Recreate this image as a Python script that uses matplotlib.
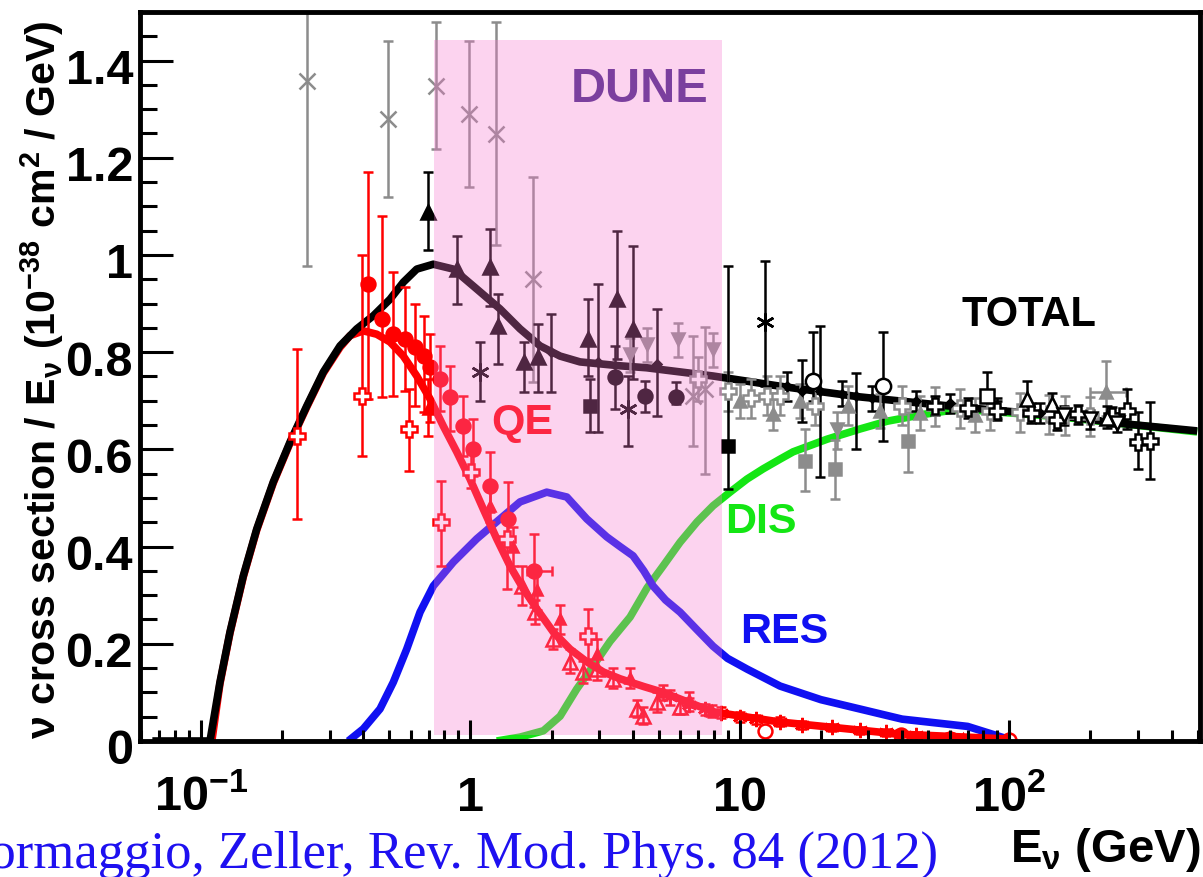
import numpy as np
import matplotlib
matplotlib.use('Agg')
import matplotlib.pyplot as plt
from matplotlib.ticker import MultipleLocator, LogLocator, NullFormatter
from matplotlib.transforms import ScaledTranslation

plt.rcParams['font.family'] = ['Liberation Sans', 'DejaVu Sans']
plt.rcParams['font.weight'] = 'bold'
plt.rcParams['mathtext.fontset'] = 'custom'
plt.rcParams['mathtext.rm'] = 'Liberation Sans:bold'
plt.rcParams['mathtext.it'] = 'Liberation Sans:bold'
plt.rcParams['mathtext.bf'] = 'Liberation Sans:bold'
plt.rcParams['mathtext.sf'] = 'Liberation Sans:bold'
plt.rcParams['mathtext.default'] = 'regular'

# ---------------- curves (E in GeV, sigma/E) ----------------
total_E = [0.066, 0.108, 0.1176, 0.1281, 0.1436, 0.161, 0.1855, 0.214, 0.2468, 0.2844, 0.3281,
           0.3784, 0.4361, 0.503, 0.5636, 0.6322, 0.7282, 0.8638, 1.0252, 1.288, 1.528, 1.813,
           2.151, 2.552, 3.592, 4.5, 7.95, 14.1, 27.9, 65.7, 154, 274, 498]
total_y = [0.0, 0.0, 0.121, 0.224, 0.34, 0.436, 0.533, 0.615, 0.689, 0.759, 0.813,
           0.848, 0.875, 0.909, 0.944, 0.971, 0.981, 0.971, 0.936, 0.889, 0.848, 0.813,
           0.792, 0.780, 0.772, 0.768, 0.751, 0.730, 0.708, 0.687, 0.669, 0.652, 0.638]

qe_E = [0.1097, 0.1176, 0.1281, 0.1436, 0.161, 0.1855, 0.214, 0.2468, 0.2844, 0.3281, 0.3573,
        0.4003, 0.449, 0.503, 0.5636, 0.6322, 0.7079, 0.793, 0.8894, 0.9966, 1.1166, 1.252,
        1.4028, 1.5718, 1.7622, 2.031, 2.343, 2.702, 3.113, 3.592, 4.4, 5.19, 7.95, 14.1, 39.3, 100]
qe_y = [0.0, 0.118, 0.222, 0.338, 0.434, 0.531, 0.613, 0.687, 0.757, 0.810, 0.834,
        0.844, 0.837, 0.821, 0.792, 0.751, 0.704, 0.648, 0.595, 0.539, 0.477, 0.416,
        0.360, 0.313, 0.272, 0.224, 0.189, 0.163, 0.142, 0.128, 0.112, 0.100, 0.060, 0.039, 0.014, 0.004]

res_E = [0.3521, 0.4003, 0.4618, 0.5174, 0.5801, 0.65, 0.7282, 0.8638, 1.0554, 1.288, 1.528,
         1.9195, 2.2786, 2.702, 3.206, 3.592, 4.014, 4.4, 4.76, 5.3, 6.0, 6.9, 7.95, 9.0, 10.63,
         14.1, 20, 40, 70, 100]
res_y = [0.0, 0.025, 0.066, 0.121, 0.189, 0.265, 0.319, 0.368, 0.416, 0.457, 0.492,
         0.512, 0.502, 0.457, 0.420, 0.400, 0.381, 0.350, 0.319, 0.290, 0.265, 0.230, 0.195, 0.170,
         0.148, 0.113, 0.085, 0.045, 0.030, 0.003]

dis_E = [1.252, 1.528, 1.8646, 2.151, 2.481, 2.859, 3.298, 3.913, 4.524, 5.186, 6.0, 6.94, 7.95,
         9.19, 10.63, 12.2, 14.1, 15.76, 21.07, 27.9, 35.2, 48.0, 65.7, 154, 498]
dis_y = [0.0, 0.008, 0.021, 0.051, 0.107, 0.155, 0.205, 0.255, 0.315, 0.360, 0.409, 0.451, 0.484,
         0.512, 0.539, 0.560, 0.580, 0.595, 0.621, 0.642, 0.658, 0.672, 0.683, 0.667, 0.636]

# ---------------- data points: E, y, bar low, bar high ----------------
grayx_E = [0.2474, 0.494, 0.745, 0.988, 1.245, 1.708, 6.704, 7.428]
grayx_y = [1.358, 1.28, 1.348, 1.29, 1.249, 0.95, 0.71, 0.724]
grayx_lo = [0.977, 1.12, 1.218, 1.14, 1.02, 0.739, 0.607, 0.549]
grayx_hi = [1.55, 1.44, 1.48, 1.44, 1.48, 1.16, 0.833, 0.852]

dtri_E = [0.696, 0.892, 1.183, 1.266, 1.581, 1.781, 2.732, 3.50, 4.014]
dtri_y = [1.088, 0.971, 0.975, 0.854, 0.78, 0.79, 0.827, 0.909, 0.848]
dtri_lo = [1.01, 0.90, 0.895, 0.776, 0.718, 0.718, 0.751, 0.786, 0.745]
dtri_hi = [1.17, 1.04, 1.053, 0.92, 0.821, 0.858, 0.909, 1.05, 1.019]

ddot_E = [1.99, 2.977, 4.93, 17.02, 19.85, 27.0, 15.0, 24.0, 31.0, 45.0, 60.0, 90.0, 130.0]
ddot_y = [0.80, 0.78, 0.775, 0.72, 0.72, 0.71, 0.73, 0.715, 0.705, 0.70, 0.695, 0.685, 0.675]
ddot_lo = [0.718, 0.636, 0.669, 0.656, 0.543, 0.601, 0.70, 0.69, 0.68, 0.68, 0.675, 0.665, 0.655]
ddot_hi = [0.879, 0.94, 0.889, 0.784, 0.854, 0.757, 0.76, 0.74, 0.73, 0.72, 0.715, 0.705, 0.695]

dstar_E = [1.086, 3.846, 12.41]
dstar_y = [0.759, 0.683, 0.862]
dstar_lo = [0.70, 0.607, 0.73]
dstar_hi = [0.821, 0.751, 0.988]

dcirc_E = [3.44, 4.447, 5.798]
dcirc_y = [0.749, 0.71, 0.708]
dcirc_lo = [0.683, 0.677, 0.693]
dcirc_hi = [0.813, 0.741, 0.739]

dsq_E = [2.78, 9.04]
dsq_y = [0.689, 0.607]
dsq_lo = [0.636, 0.519]
dsq_hi = [0.745, 0.977]

gdtri_E = [3.913, 4.52, 5.897, 7.95, 22.96]
gdtri_y = [0.796, 0.817, 0.827, 0.807, 0.642]
gdtri_lo = [0.76, 0.78, 0.79, 0.77, 0.60]
gdtri_hi = [0.83, 0.85, 0.86, 0.84, 0.677]

gtri_E = [10.0, 13.3, 16.7, 25.2, 33.2, 46.7, 74.6, 228.8]
gtri_y = [0.70, 0.673, 0.70, 0.69, 0.68, 0.675, 0.67, 0.718]
gtri_lo = [0.665, 0.64, 0.665, 0.65, 0.645, 0.64, 0.635, 0.669]
gtri_hi = [0.735, 0.71, 0.735, 0.73, 0.715, 0.71, 0.705, 0.782]

gplus_E = [7.0, 9.04, 11.0, 12.6, 14.1, 19.0, 40.0, 53.0, 65.7, 85.0, 110.0, 140.0, 161.0, 200.0]
gplus_y = [0.745, 0.72, 0.705, 0.71, 0.71, 0.69, 0.69, 0.688, 0.685, 0.68, 0.676, 0.672, 0.67, 0.668]
gplus_lo = [0.70, 0.68, 0.665, 0.67, 0.67, 0.65, 0.65, 0.648, 0.645, 0.64, 0.636, 0.632, 0.63, 0.628]
gplus_hi = [0.79, 0.76, 0.745, 0.75, 0.75, 0.73, 0.73, 0.728, 0.725, 0.72, 0.716, 0.712, 0.71, 0.708]

gsq_E = [17.46, 22.57, 42.1]
gsq_y = [0.576, 0.56, 0.617]
gsq_lo = [0.514, 0.498, 0.553]
gsq_hi = [0.642, 0.62, 0.677]

bocirc_E = [18.7, 34.0]
bocirc_y = [0.741, 0.731]
bocirc_lo = [0.70, 0.617]
bocirc_hi = [0.842, 0.842]

bosq_E = [82.7]
bosq_y = [0.71]
bosq_lo = [0.677]
bosq_hi = [0.759]

boplus_E = [53.0, 70.0, 90.0, 120.0, 150.0, 180.0, 240.0, 273.7, 300.8, 333.2]
boplus_y = [0.69, 0.685, 0.68, 0.675, 0.66, 0.672, 0.668, 0.679, 0.615, 0.617]
boplus_lo = [0.67, 0.665, 0.66, 0.655, 0.64, 0.652, 0.648, 0.642, 0.56, 0.539]
boplus_hi = [0.71, 0.705, 0.70, 0.695, 0.68, 0.692, 0.688, 0.724, 0.677, 0.698]

botri_E = [116.5, 144.6, 230.0]
botri_y = [0.704, 0.693, 0.665]
botri_lo = [0.68, 0.67, 0.645]
botri_hi = [0.74, 0.716, 0.69]

bodtri_E = [160.0, 250.0, 200.0]
bodtri_y = [0.67, 0.655, 0.662]
bodtri_lo = [0.65, 0.635, 0.642]
bodtri_hi = [0.69, 0.675, 0.682]

rcirc_E = [0.4168, 0.4697, 0.516, 0.5718, 0.623, 0.6727, 0.7079, 0.7715, 0.840, 0.939, 1.023, 1.183,
           1.379, 1.722, 39.3, 60.3]
rcirc_y = [0.940, 0.868, 0.837, 0.827, 0.811, 0.792, 0.77, 0.745, 0.708, 0.648, 0.601, 0.525,
           0.457, 0.35, 0.015, 0.01]
rcirc_lo = [0.704, 0.708, 0.71, 0.72, 0.689, 0.677, 0.656, 0.679, 0.638, 0.586, 0.545, 0.471,
            0.42, 0.276, 0.008, 0.004]
rcirc_hi = [1.17, 1.08, 0.965, 0.934, 0.899, 0.875, 0.837, 0.813, 0.772, 0.71, 0.663, 0.595,
            0.533, 0.426, 0.022, 0.016]

rplus_E = [0.2271, 0.396, 0.5917, 0.7781, 1.005, 1.367, 2.732]
rplus_y = [0.628, 0.71, 0.642, 0.45, 0.553, 0.416, 0.216]
rplus_lo = [0.457, 0.586, 0.556, 0.36, 0.52, 0.313, 0.169]
rplus_hi = [0.807, 1.0, 0.724, 0.535, 0.59, 0.46, 0.272]

rtri_E = [0.696, 1.183, 1.44, 1.77, 2.15, 2.95, 3.9, 5.2, 6.5, 7.9, 67.4]
rtri_y = [0.683, 0.484, 0.40, 0.31, 0.25, 0.18, 0.13, 0.10, 0.085, 0.062, 0.004]
rtri_lo = [0.628, 0.45, 0.36, 0.27, 0.22, 0.15, 0.11, 0.085, 0.07, 0.05, 0.0]
rtri_hi = [0.745, 0.52, 0.44, 0.35, 0.28, 0.21, 0.15, 0.115, 0.10, 0.075, 0.01]

rotri_E = [1.554, 1.737, 2.026, 2.343, 2.618, 2.951, 3.383, 4.153, 4.372, 4.93, 6.0]
rotri_y = [0.319, 0.265, 0.21, 0.163, 0.142, 0.148, 0.128, 0.066, 0.051, 0.08, 0.07]
rotri_lo = [0.28, 0.24, 0.19, 0.14, 0.12, 0.125, 0.11, 0.05, 0.035, 0.06, 0.055]
rotri_hi = [0.36, 0.29, 0.23, 0.19, 0.165, 0.17, 0.15, 0.085, 0.07, 0.1, 0.085]

rstar_E = [5.5, 6.5, 7.4, 8.5, 10.0, 11.5, 14.1, 17.0, 22.0, 28.0, 35.0, 45.0]
rstar_y = [0.09, 0.075, 0.065, 0.058, 0.05, 0.045, 0.04, 0.033, 0.028, 0.022, 0.018, 0.013]
rstar_lo = [0.075, 0.062, 0.053, 0.047, 0.04, 0.036, 0.031, 0.025, 0.02, 0.015, 0.011, 0.007]
rstar_hi = [0.105, 0.088, 0.077, 0.069, 0.06, 0.054, 0.049, 0.041, 0.036, 0.029, 0.025, 0.019]

rocirc_E = [12.4, 39.5, 100.0]
rocirc_y = [0.02, 0.012, 0.003]

# ---------------- text / ticks ----------------
xtick_pos = [0.1, 1, 10, 100]
xtick_lab = ['$10^{-1}$', '1', '10', '$10^{2}$']
ytick_pos = [0, 0.2, 0.4, 0.6, 0.8, 1.0, 1.2, 1.4]
ytick_lab = ['0', '0.2', '0.4', '0.6', '0.8', '1', '1.2', '1.4']
band_E = [0.733, 8.59]
band_y = [0.012, 1.442]

C_GRAY = '#8c8c8c'
C_RED = '#ff0000'
C_BLUE = '#1010f2'
C_GREEN = '#14e614'
ASTERISK = (6, 2, 0)

fig = plt.figure(figsize=(12.03, 8.78), dpi=100)
ax = fig.add_axes([0.1164, 0.1549, 0.8811, 0.8303])
ax.set_xscale('log')
ax.set_xlim(0.0594, 510)
ax.set_ylim(0, 1.5)

# curves
kw = dict(lw=5.5, solid_capstyle='butt', solid_joinstyle='round')
ax.plot(dis_E, dis_y, color=C_GREEN, zorder=2.0, **kw)
ax.plot(res_E, res_y, color=C_BLUE, zorder=2.1, **kw)
ax.plot(qe_E, qe_y, color=C_RED, zorder=2.2, **kw)
ax.plot(total_E, total_y, color='black', zorder=2.3, **kw)


def eb(E, y, lo, hi, marker, color, mfc=None, ms=9, z=3, xerr=None, lw=1.8):
    E = np.asarray(E, dtype=float)
    y = np.asarray(y, dtype=float)
    yerr = np.vstack([y - np.asarray(lo), np.asarray(hi) - y])
    ax.errorbar(E, y, yerr=yerr, xerr=xerr, fmt='none', ecolor=color,
                elinewidth=lw, capsize=3.5, capthick=lw, zorder=z)
    ax.plot(E, y, linestyle='none', marker=marker, color=color,
            mfc=color if mfc is None else mfc, mec=color, ms=ms, mew=1.8, zorder=z + 0.01)


eb(grayx_E, grayx_y, grayx_lo, grayx_hi, 'x', C_GRAY, ms=12)
eb(gplus_E, gplus_y, gplus_lo, gplus_hi, 'P', C_GRAY, mfc='white', ms=11)
eb(gtri_E[:-1], gtri_y[:-1], gtri_lo[:-1], gtri_hi[:-1], '^', C_GRAY, ms=9)
eb(gtri_E[-1:], gtri_y[-1:], gtri_lo[-1:], gtri_hi[-1:], '^', C_GRAY, ms=9,
   xerr=[[gtri_E[-1] - 200.0], [270.0 - gtri_E[-1]]])
eb(gdtri_E, gdtri_y, gdtri_lo, gdtri_hi, 'v', C_GRAY, ms=9)
eb(gsq_E, gsq_y, gsq_lo, gsq_hi, 's', C_GRAY, ms=9)

eb(ddot_E, ddot_y, ddot_lo, ddot_hi, 'D', 'black', ms=4)
eb(dtri_E, dtri_y, dtri_lo, dtri_hi, '^', 'black', ms=10)
eb(dstar_E, dstar_y, dstar_lo, dstar_hi, ASTERISK, 'black', ms=13)
eb(dcirc_E, dcirc_y, dcirc_lo, dcirc_hi, 'o', 'black', ms=10)
eb(dsq_E, dsq_y, dsq_lo, dsq_hi, 's', 'black', ms=9)
eb(bocirc_E, bocirc_y, bocirc_lo, bocirc_hi, 'o', 'black', mfc='white', ms=11)
eb(bosq_E, bosq_y, bosq_lo, bosq_hi, 's', 'black', mfc='white', ms=10)
eb(boplus_E, boplus_y, boplus_lo, boplus_hi, 'P', 'black', mfc='white', ms=11)
eb(botri_E, botri_y, botri_lo, botri_hi, '^', 'black', mfc='white', ms=10)
eb(bodtri_E, bodtri_y, bodtri_lo, bodtri_hi, 'v', 'black', mfc='white', ms=10)

eb(rcirc_E[:13], rcirc_y[:13], rcirc_lo[:13], rcirc_hi[:13], 'o', C_RED, ms=10)
eb(rcirc_E[13:14], rcirc_y[13:14], rcirc_lo[13:14], rcirc_hi[13:14], 'o', C_RED, ms=10,
   xerr=[[rcirc_E[13] - 1.62], [2.0 - rcirc_E[13]]])
eb(rcirc_E[14:], rcirc_y[14:], rcirc_lo[14:], rcirc_hi[14:], 'o', C_RED, ms=6)
eb(rplus_E, rplus_y, rplus_lo, rplus_hi, 'P', C_RED, mfc='white', ms=11)
eb(rtri_E, rtri_y, rtri_lo, rtri_hi, '^', C_RED, ms=7)
eb(rotri_E, rotri_y, rotri_lo, rotri_hi, '^', C_RED, mfc='none', ms=10)
eb(rstar_E, rstar_y, rstar_lo, rstar_hi, ASTERISK, C_RED, ms=11)
ax.plot(rocirc_E, rocirc_y, linestyle='none', marker='o', mfc='none', mec=C_RED, ms=10,
        mew=1.8, zorder=3)

# DUNE band (semi-transparent overlay above the data)
ax.fill_between(band_E, band_y[0], band_y[1], color=(248 / 255, 120 / 255, 206 / 255),
                alpha=0.32, lw=0, zorder=5)

# labels in the plot
ax.text(4.26, 1.342, 'DUNE', color='#7b3f9e', fontsize=35, fontweight='bold',
        ha='center', va='center', zorder=6)
ax.text(118.5, 0.879, 'TOTAL', color='black', fontsize=30, fontweight='bold',
        ha='center', va='center', zorder=6)
ax.text(1.554, 0.656, 'QE', color=C_RED, fontsize=31, fontweight='bold',
        ha='center', va='center', zorder=4)
ax.text(11.99, 0.453, 'DIS', color=C_GREEN, fontsize=31, fontweight='bold',
        ha='center', va='center', zorder=6)
ax.text(14.59, 0.226, 'RES', color=C_BLUE, fontsize=31, fontweight='bold',
        ha='center', va='center', zorder=6)

# axes styling
for s in ax.spines.values():
    s.set_linewidth(3.5)
    s.set_zorder(10)
ax.xaxis.set_zorder(10)
ax.yaxis.set_zorder(10)

ax.set_xticks(xtick_pos, xtick_lab, va='baseline', fontsize=35, fontweight='bold')
ax.xaxis.set_minor_locator(LogLocator(base=10, subs=np.arange(2, 10)))
ax.xaxis.set_minor_formatter(NullFormatter())
ax.set_yticks(ytick_pos, ytick_lab, fontsize=35, fontweight='bold')
ax.yaxis.set_minor_locator(MultipleLocator(0.05))

ax.tick_params(axis='x', which='major', direction='in', length=15, width=2.2, pad=50,
               top=False, bottom=True)
ax.tick_params(axis='x', which='minor', direction='in', length=8, width=2.2, top=False)
ax.tick_params(axis='y', which='major', direction='in', length=24, width=2.2, pad=5,
               right=False)
ax.tick_params(axis='y', which='minor', direction='in', length=12, width=2.2, right=False)

shift = ScaledTranslation(0, -5 / 100, fig.dpi_scale_trans)
for lbl in ax.get_yticklabels():
    lbl.set_transform(lbl.get_transform() + shift)

fig.text(42 / 1203, 1 - 380 / 878, 'ν cross section / E$_{ν}$ (10$^{-38}$ cm$^{2}$ / GeV)',
         rotation=90, ha='center', va='center', fontsize=29.6, fontweight='bold')
fig.text(1200 / 1203, 1 - 862 / 878, 'E$_{ν}$ (GeV)', ha='right', va='baseline',
         fontsize=34, fontweight='bold')
fig.text(938 / 1203, 1 - 868 / 878, 'Formaggio, Zeller, Rev. Mod. Phys. 84 (2012)',
         ha='right', va='baseline', fontsize=38, family=['Liberation Serif', 'DejaVu Serif'],
         fontweight='normal', color='#1e10f0')

fig.savefig('out.png', dpi=100)
